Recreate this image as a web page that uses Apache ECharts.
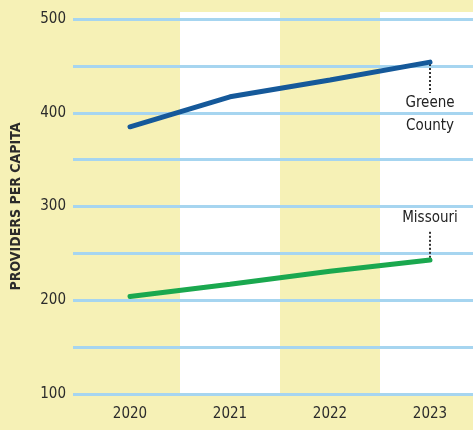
<!DOCTYPE html>
<html>
<head>
<meta charset="utf-8">
<script src="https://cdn.jsdelivr.net/npm/echarts@6/dist/echarts.min.js"></script>
<style>
  html, body { margin: 0; padding: 0; background: #f6f1b6; }
  #main { width: 473px; height: 430px; }
</style>
</head>
<body>
<div id="main"></div>
<script>
const years = ['2020', '2021', '2022', '2023'];
const greene = [385, 417, 435, 454];
const missouri = [204, 217, 231, 243];
const yTicks = [100, 500, 50];

const font = '"Liberation Sans Narrow", "DejaVu Sans Condensed", sans-serif';

let myChart = echarts.init(document.getElementById('main'));

let option = {
  backgroundColor: '#f6f1b6',
  animation: false,
  grid: [
    { left: 80, top: 12, width: 400, height: 382, outerBoundsMode: 'none' },
    { left: 73, top: 19, width: 400, height: 375, outerBoundsMode: 'none' }
  ],
  xAxis: [
    {
      type: 'category', gridIndex: 0, data: years, boundaryGap: true, z: -1,
      axisLine: { show: false }, axisTick: { show: false },
      axisLabel: { color: '#2b2b2b', fontSize: 15, fontFamily: font, margin: 13 },
      splitArea: { show: true, areaStyle: { color: ['rgba(0,0,0,0)', '#ffffff'] } }
    },
    { type: 'value', gridIndex: 1, show: false, min: 0, max: 1 }
  ],
  yAxis: [
    { type: 'value', gridIndex: 0, show: false, min: 100, max: 100 + 382 * 400 / 375 },
    {
      type: 'value', gridIndex: 1, min: yTicks[0], max: yTicks[1], interval: yTicks[2], z: 1,
      name: 'PROVIDERS PER CAPITA', nameLocation: 'middle', nameRotate: 90, nameGap: 50,
      nameTextStyle: { color: '#2b2b2b', fontSize: 14, fontWeight: 'bold', fontFamily: font },
      axisLine: { show: false }, axisTick: { show: false },
      axisLabel: {
        color: '#2b2b2b', fontSize: 15, fontFamily: font, margin: 7,
        formatter: v => (v % 100 === 0 ? String(v) : '')
      },
      splitLine: { lineStyle: { color: '#a6d5f0', width: 3 } }
    }
  ],
  series: [
    {
      name: 'Greene County', type: 'line', xAxisIndex: 0, yAxisIndex: 0,
      data: greene, symbol: 'none', z: 5,
      lineStyle: { color: '#15599a', width: 5, cap: 'round' },
      markLine: {
        symbol: 'none', silent: true,
        lineStyle: { color: '#333', type: [2, 2], width: 2 },
        label: { show: false },
        data: [[{ coord: ['2023', 452] }, { coord: ['2023', 421] }]]
      },
      markPoint: {
        symbol: 'circle', symbolSize: 0,
        label: { show: true, formatter: 'Greene\nCounty', color: '#222', fontSize: 15,
                 lineHeight: 23, fontFamily: font, align: 'center' },
        data: [{ coord: ['2023', 398] }]
      }
    },
    {
      name: 'Missouri', type: 'line', xAxisIndex: 0, yAxisIndex: 0,
      data: missouri, symbol: 'none', z: 5,
      lineStyle: { color: '#1aa84f', width: 5, cap: 'round' },
      markLine: {
        symbol: 'none', silent: true,
        lineStyle: { color: '#333', type: [2, 2], width: 2 },
        label: { show: false },
        data: [[{ coord: ['2023', 273] }, { coord: ['2023', 245] }]]
      },
      markPoint: {
        symbol: 'circle', symbolSize: 0,
        label: { show: true, formatter: 'Missouri', color: '#222', fontSize: 15,
                 fontFamily: font, align: 'center' },
        data: [{ coord: ['2023', 288] }]
      }
    }
  ]
};
myChart.setOption(option);
</script>
</body>
</html>
